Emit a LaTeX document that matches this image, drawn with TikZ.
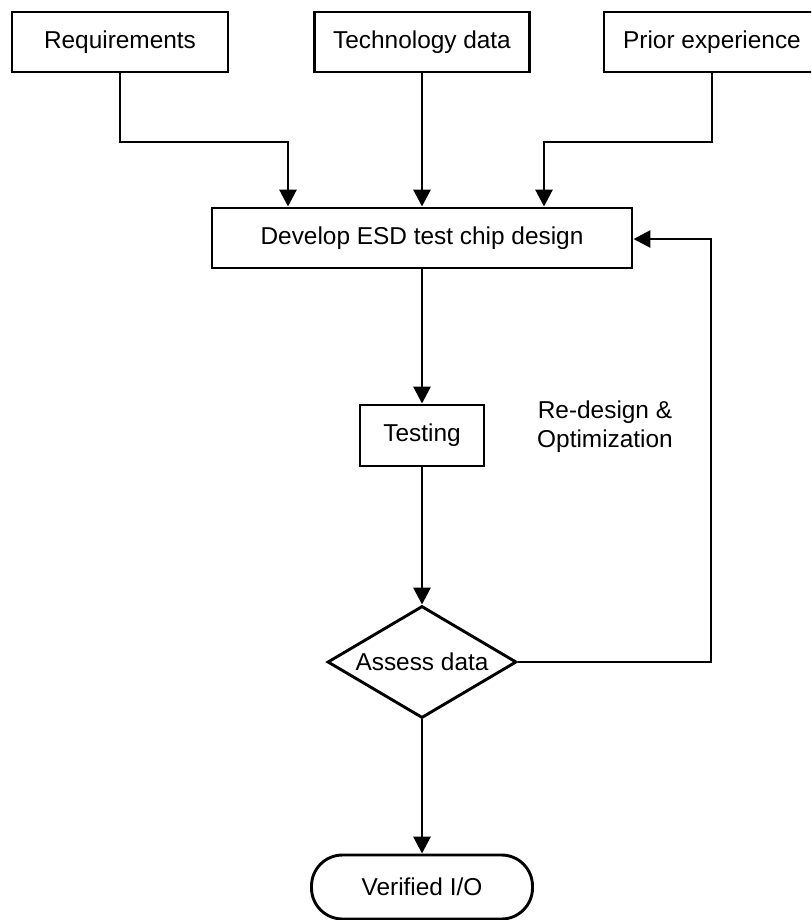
\documentclass[tikz,border=0pt]{standalone}
\usepackage{fontspec}
\setmainfont{Liberation Sans}
\usetikzlibrary{arrows.meta,shapes.geometric}
\begin{document}
\begin{tikzpicture}[x=1pt,y=-1pt,
  every node/.style={font=\fontsize{24.4}{29}\selectfont, inner sep=0pt},
  boxnode/.style={draw, line width=2.9pt, rectangle, minimum height=60pt},
  decnode/.style={draw, line width=2.9pt, diamond, aspect=1.69, minimum width=189pt, minimum height=112pt},
  termnode/.style={draw, line width=2.9pt, rectangle, rounded corners=31pt, minimum width=221pt, minimum height=64pt},
  conn/.style={line width=2.9pt, -{Triangle[length=17pt,width=17pt]}}]
\useasboundingbox (0,0) rectangle (811,920);
\clip (0,0) rectangle (811,920);
\node[boxnode, minimum width=216pt] (req) at (120,42) {Requirements};
\node[boxnode, minimum width=215pt] (tech) at (422,42) {Technology data};
\node[boxnode, minimum width=216pt] (prior) at (712,42) {Prior experience};
\node[boxnode, minimum width=420pt] (dev) at (422,238) {Develop ESD test chip design};
\node[boxnode, minimum width=124pt, minimum height=61pt] (test) at (422,435.5) {Testing};
\node[decnode] (assess) at (422,662) {Assess data};
\node[termnode] (ver) at (422,887) {Verified I/O};
\node[align=center] (lbl) at (605,427) {Re-design \&\\Optimization};
\coordinate (reqk1) at (120,142);
\coordinate (reqk2) at (288,142);
\coordinate (prik1) at (712,142);
\coordinate (prik2) at (544,142);
\coordinate (fbk1) at (711,662);
\coordinate (fbk2) at (711,239);
\draw[conn] (req.south) -- (reqk1) -- (reqk2) -- (reqk2 |- dev.north);
\draw[conn] (tech.south) -- (dev.north);
\draw[conn] (prior.south) -- (prik1) -- (prik2) -- (prik2 |- dev.north);
\draw[conn] (dev.south) -- (test.north);
\draw[conn] (test.south) -- (assess.north);
\draw[conn] (assess.south) -- (ver.north);
\draw[conn] (assess.east) -- (fbk1) -- (fbk2) -- (dev.east |- fbk2);
\end{tikzpicture}
\end{document}
